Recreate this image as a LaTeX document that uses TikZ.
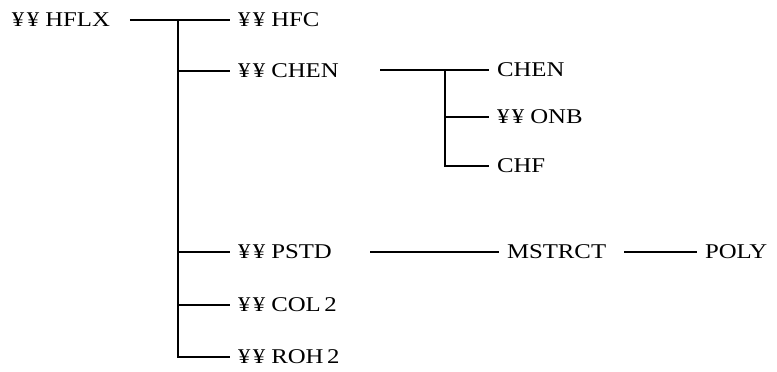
\documentclass[tikz,border=0pt]{standalone}
\usepackage{fontspec}
\setmainfont[FakeStretch=1.18]{Liberation Serif}
\usepackage{tikz}
\usetikzlibrary{calc}

\newcommand{\yy}{¥\kern2.5pt¥\kern6pt}

\begin{document}
\begin{tikzpicture}[
  x=1pt, y=-1pt,
  lab/.style={anchor=west, inner sep=0pt, outer xsep=8pt,
              font=\fontsize{21}{24}\selectfont},
  ln/.style={line width=1.8pt}
]
\useasboundingbox (0,0) rectangle (777,372);
% first level
\node[lab, outer xsep=0pt] (hflx) at (12,20) {\yy HFLX};
\node[lab] (hfc)  at (230,20)  {\yy HFC};
\node[lab] (chen) at (230,71)  {\yy CHEN};
\node[lab] (pstd) at (230,252) {\yy PSTD};
\node[lab] (col)  at (230,305) {\yy COL\,2};
\node[lab] (roh)  at (230,357) {\yy ROH\,2};
% under CHEN
\node[lab] (chenS) at (489,70)  {CHEN};
\node[lab] (onb)   at (489,117) {\yy ONB};
\node[lab] (chf)   at (489,166) {CHF};
% under PSTD
\node[lab] (mstrct) at (499,252) {MSTRCT};
\node[lab] (poly)   at (697,252) {POLY};

\coordinate (trunk) at (178,20);
\coordinate (sub)   at (445,70);
\draw[ln] ([xshift=20pt]hflx.east) -- (hfc.west);
\draw[ln] (trunk) |- (roh.west);
\foreach \n in {chen,pstd,col}
  \draw[ln] (trunk |- \n.west) -- (\n.west);
\draw[ln] (380,70) coordinate (chenR) -- (chenS.west);
\draw[ln] (sub) |- (chf.west);
\draw[ln] (sub |- onb.west) -- (onb.west);
\draw[ln] (370,252) coordinate (pstdR) -- (mstrct.west);
\draw[ln] ([xshift=10pt]mstrct.east) -- (poly.west);
\end{tikzpicture}
\end{document}
